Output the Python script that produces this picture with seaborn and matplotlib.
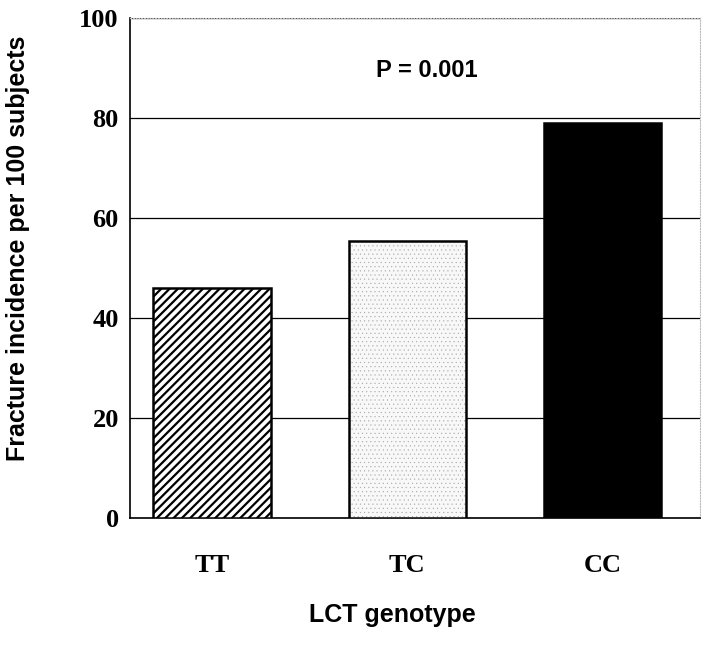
import matplotlib
matplotlib.use("Agg")
import matplotlib.pyplot as plt
import seaborn as sns
import pandas as pd
from matplotlib.patches import Rectangle

genotypes = ["TT", "TC", "CC"]
incidence = [46, 55.5, 79]
y_ticks = [0, 20, 40, 60, 80, 100]
annotation = "P = 0.001"

sns.set_style("white")
plt.rcParams["font.family"] = ["Liberation Sans", "DejaVu Sans"]
plt.rcParams["text.color"] = "black"
plt.rcParams["axes.labelcolor"] = "black"
plt.rcParams["xtick.color"] = "black"
plt.rcParams["ytick.color"] = "black"
plt.rcParams["hatch.linewidth"] = 1.6

df = pd.DataFrame({"genotype": genotypes, "incidence": incidence})

fig = plt.figure(figsize=(7.1, 6.46), dpi=100)
ax = fig.add_axes([0.183, 0.198, 0.803, 0.774])

sns.barplot(data=df, x="genotype", y="incidence", order=genotypes,
            color="white", width=0.6, edgecolor="black", linewidth=1.8,
            saturation=1, ax=ax, zorder=3)

patches = ax.patches
patches[0].set_facecolor("white")
patches[0].set_hatch("////")
patches[0].set_edgecolor("black")

patches[1].set_facecolor("#f8f8f8")
patches[1].set_hatch("....")
patches[1].set_edgecolor("#a8a8a8")
patches[1].set_linewidth(0)
if hasattr(patches[1], "set_hatch_linewidth"):
    patches[1].set_hatch_linewidth(0.3)
p = patches[1]
ax.add_patch(Rectangle(p.get_xy(), p.get_width(), p.get_height(), fill=False,
                       edgecolor="black", linewidth=1.8, zorder=4))

patches[2].set_facecolor("black")
patches[2].set_edgecolor("black")

ax.set_ylim(0, 100)
ax.set_xlim(-0.42, 2.5)
ax.set_yticks(y_ticks)
ax.yaxis.grid(True, color="black", linewidth=0.9, zorder=0)
ax.set_axisbelow(True)

for s in ["top", "right"]:
    ax.spines[s].set_color("#bbbbbb")
    ax.spines[s].set_linewidth(0.8)
    ax.spines[s].set_linestyle((0, (1, 1.5)))
for s in ["left", "bottom"]:
    ax.spines[s].set_color("black")
    ax.spines[s].set_linewidth(1.2)

ax.tick_params(axis="both", length=0)
ax.tick_params(axis="x", pad=26)
ax.tick_params(axis="y", pad=8)
for lab in ax.get_xticklabels() + ax.get_yticklabels():
    lab.set_fontfamily(["Liberation Serif", "DejaVu Serif"])
    lab.set_fontweight("bold")
    lab.set_fontsize(19)

ax.set_xlabel("LCT genotype", fontsize=18, fontweight="bold")
ax.set_ylabel("Fracture incidence per 100 subjects", fontsize=18,
              fontweight="bold")
ax.xaxis.set_label_coords(0.46, -0.17)
ax.yaxis.set_label_coords(-0.176, 0.54)

ax.text(0.52, 0.895, annotation, transform=ax.transAxes, ha="center",
        va="center", fontsize=17, fontweight="bold")

fig.savefig("out.png", dpi=100)
